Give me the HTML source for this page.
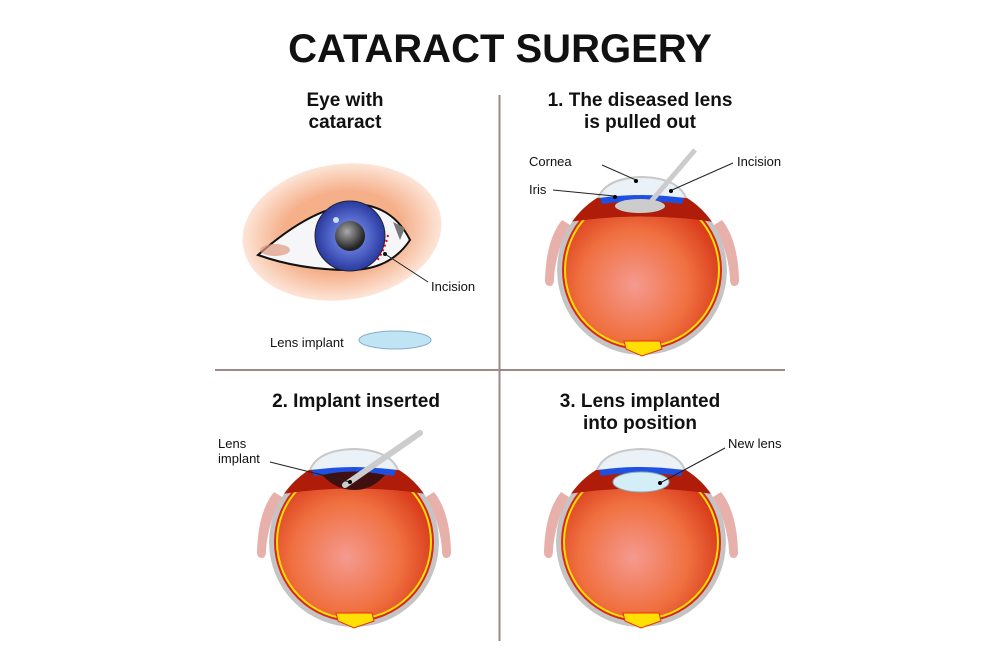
<!DOCTYPE html>
<html><head><meta charset="utf-8"><style>
body{margin:0;background:#fff}
svg{display:block}
text{font-family:"Liberation Sans",sans-serif;fill:#111}
.h{font-weight:bold;font-size:19px;text-anchor:middle}
.l{font-size:13px}
</style></head><body>
<svg width="1000" height="667" viewBox="0 0 1000 667">
<defs>
<radialGradient id="rg" cx="0.45" cy="0.6" r="0.6">
<stop offset="0" stop-color="#f59a90"/><stop offset="0.6" stop-color="#f07040"/><stop offset="1" stop-color="#d83a1a"/>
</radialGradient>
<radialGradient id="skin" cx="0.5" cy="0.5" r="0.5">
<stop offset="0.6" stop-color="#f5b08a"/><stop offset="1" stop-color="#fde5d8"/>
</radialGradient>
<radialGradient id="iris" cx="0.5" cy="0.5" r="0.5">
<stop offset="0.3" stop-color="#6a80e0"/><stop offset="1" stop-color="#2a3aa0"/>
</radialGradient>
<radialGradient id="pup" cx="0.4" cy="0.35" r="0.6">
<stop offset="0" stop-color="#aaa"/><stop offset="1" stop-color="#222"/>
</radialGradient>
<clipPath id="cut"><path d="M-45,-72 A85,85 0 1,0 45,-72 Z"/></clipPath>
<g id="eye">
<path d="M-80,-50 Q-96,-30 -97,10 Q-97,16 -92,16 Q-88,16 -88,8 Q-86,-20 -72,-45Z" fill="#e8b0aa"/>
<path d="M80,-50 Q96,-30 97,10 Q97,16 92,16 Q88,16 88,8 Q86,-20 72,-45Z" fill="#e8b0aa"/>
<path d="M-44,-72 Q-36,-92 0,-93 Q36,-92 44,-72Z" fill="#eaf2f8" stroke="#c8c8c8" stroke-width="2"/>
<g clip-path="url(#cut)">
<circle r="85" fill="#c4c4c4"/>
<circle r="80" fill="#d8281a"/>
<circle r="78" fill="#ffe000"/>
<circle r="76" fill="url(#rg)"/>
<path d="M-90,-80 L90,-80 L90,-45 Q0,-62 -90,-45Z" fill="#b01c0a"/>
</g>
<path d="M-42,-72 Q0,-78 42,-72 L40,-66 Q0,-72 -40,-66Z" fill="#2050e0"/>
<path d="M-16,79 L-18,71 L18,71 L20,79 L0,86Z" fill="#ffe000" stroke="#e83010"/>
</g>
</defs>
<text x="500" y="62" style="font-weight:bold;font-size:40px;text-anchor:middle">CATARACT SURGERY</text>
<line x1="499.5" y1="95" x2="499.5" y2="641" stroke="#9a8a8a" stroke-width="2"/>
<line x1="215" y1="370" x2="785" y2="370" stroke="#9a8a8a" stroke-width="2"/>
<text class="h" x="345" y="106">Eye with</text>
<text class="h" x="345" y="128">cataract</text>
<text class="h" x="640" y="106">1. The diseased lens</text>
<text class="h" x="640" y="128">is pulled out</text>
<text class="h" x="356" y="407">2. Implant inserted</text>
<text class="h" x="640" y="407">3. Lens implanted</text>
<text class="h" x="640" y="429">into position</text>
<!-- top-left eye -->
<ellipse cx="342" cy="232" rx="100" ry="68" fill="url(#skin)" transform="rotate(-8 342 232)"/>
<path d="M258,255 Q320,200 365,205 Q395,210 410,240 Q390,270 350,270 Q300,270 258,255Z" fill="#f6f6f8" stroke="#111" stroke-width="2"/>
<ellipse cx="275" cy="250" rx="15" ry="6" fill="#e09a80" opacity="0.7"/>
<circle cx="350" cy="236" r="35" fill="url(#iris)" stroke="#223" stroke-width="1"/>
<circle cx="350" cy="236" r="15" fill="url(#pup)"/>
<circle cx="336" cy="220" r="3" fill="#cde"/>
<path d="M393,222 L405,228 L400,240Z" fill="#777"/>
<path d="M388,235 Q384,252 376,262" fill="none" stroke="#e00" stroke-width="2" stroke-dasharray="2,3"/>
<line x1="385" y1="254" x2="428" y2="282" stroke="#222"/>
<circle cx="385" cy="254" r="2" fill="#111"/>
<text class="l" x="431" y="291">Incision</text>
<text class="l" x="270" y="347">Lens implant</text>
<ellipse cx="395" cy="340" rx="36" ry="9" fill="#bfe4f4" stroke="#8ac" stroke-width="1"/>
<!-- eyes -->
<use href="#eye" transform="translate(642,270)"/>
<use href="#eye" transform="translate(354,542)"/>
<use href="#eye" transform="translate(641,542)"/>
<!-- eye1 details -->
<ellipse cx="640" cy="206" rx="25" ry="7" fill="#ccc"/>
<line x1="648" y1="205" x2="695" y2="150" stroke="#ccc" stroke-width="5"/>
<line x1="602" y1="165" x2="636" y2="180" stroke="#222"/><circle cx="636" cy="181" r="2"/>
<text class="l" x="529" y="166">Cornea</text>
<line x1="553" y1="190" x2="614" y2="196" stroke="#222"/><circle cx="615" cy="197" r="2"/>
<text class="l" x="529" y="194">Iris</text>
<line x1="733" y1="163" x2="672" y2="190" stroke="#222"/><circle cx="671" cy="191" r="2"/>
<text class="l" x="737" y="166">Incision</text>
<!-- eye2 details -->
<path d="M322,475 Q354,468 385,475 Q372,490 354,490 Q336,490 322,475Z" fill="#401010"/>
<line x1="345" y1="485" x2="420" y2="433" stroke="#ccc" stroke-width="6" stroke-linecap="round"/>
<line x1="270" y1="462" x2="350" y2="482" stroke="#222"/><circle cx="350" cy="482" r="2"/>
<text class="l" x="218" y="448">Lens</text>
<text class="l" x="218" y="463">implant</text>
<!-- eye3 details -->
<ellipse cx="641" cy="482" rx="28" ry="10" fill="#d4eef8" stroke="#8ab"/>
<line x1="725" y1="448" x2="660" y2="483" stroke="#222"/><circle cx="660" cy="483" r="2"/>
<text class="l" x="728" y="448">New lens</text>
</svg>
</body></html>
